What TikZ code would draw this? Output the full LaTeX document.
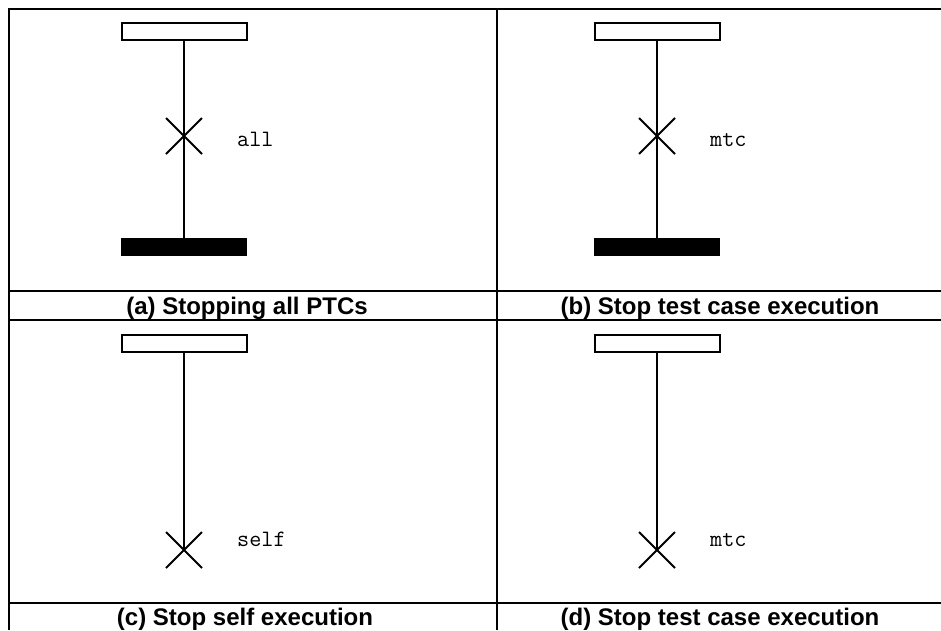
\documentclass[tikz,border=0pt]{standalone}
\usepackage{fontspec}
\setmainfont{Liberation Sans}
\usetikzlibrary{shapes.misc}

\begin{document}
\begin{tikzpicture}[
    x=1pt, y=-1pt,
    frame/.style={draw=black, line width=2pt},
    inst/.style={draw=black, fill=white, line width=2pt, inner sep=0pt, outer sep=0pt,
                 minimum width=125pt, minimum height=17pt},
    stopbar/.style={fill=black, inner sep=0pt, outer sep=0pt,
                 minimum width=126pt, minimum height=18pt},
    kill/.style={draw=black, cross out, line width=2pt, inner sep=0pt, outer sep=0pt,
                 minimum size=36pt},
    lifeline/.style={draw=black, line width=2pt},
    lbl/.style={anchor=base west, inner sep=0pt,
                font=\fontsize{23.5}{26}\selectfont\ttfamily\addfontfeature{FakeBold=1.2}},
    caption/.style={anchor=base, inner sep=0pt, font=\fontsize{24}{28}\selectfont\bfseries},
]
\useasboundingbox (0,0) rectangle (941,630);

% Rahmen und Tabellenlinien
\draw[frame] (9,630) -- (9,9) -- (941,9);
\draw[frame] (497,9) -- (497,630);
\draw[frame] (9,291) -- (941,291);
\draw[frame] (9,320) -- (941,320);
\draw[frame] (9,603) -- (941,603);

% (a) Stopping all PTCs
\node[inst] (ia) at (184, 31) {};
\node[stopbar] (ea) at (184, 247) {};
\draw[lifeline] (ia.south) -- (ea.north);
\node[kill] (xa) at (184, 136) {};
\node[lbl] (la) at (237, 146) {all};
\node[caption] (ca) at (247, 314) {(a) Stopping all PTCs};

% (b) Stop test case execution
\node[inst] (ib) at (657, 31) {};
\node[stopbar] (eb) at (657, 247) {};
\draw[lifeline] (ib.south) -- (eb.north);
\node[kill] (xb) at (657, 136) {};
\node[lbl] (lb) at (710, 146) {mtc};
\node[caption] (cb) at (720, 314) {(b) Stop test case execution};

% (c) Stop self execution
\node[inst] (ic) at (184, 343.5) {};
\node[kill] (xc) at (184, 550) {};
\draw[lifeline] (ic.south) -- (xc.center);
\node[lbl] (lc) at (237, 546) {self};
\node[caption] (cc) at (245, 625) {(c) Stop self execution};

% (d) Stop test case execution
\node[inst] (id) at (657, 343.5) {};
\node[kill] (xd) at (657, 550) {};
\draw[lifeline] (id.south) -- (xd.center);
\node[lbl] (ld) at (710, 546) {mtc};
\node[caption] (cd) at (720, 625) {(d) Stop test case execution};

\end{tikzpicture}
\end{document}
